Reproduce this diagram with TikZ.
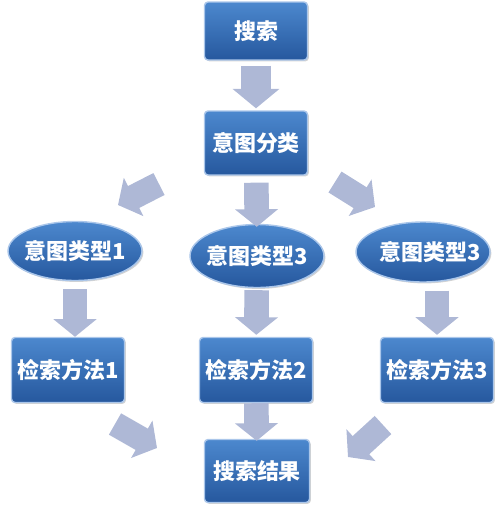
\documentclass[tikz,border=0pt]{standalone}
\usepackage{fontspec}
\newfontfamily\cjk{Noto Sans CJK SC}
\usetikzlibrary{arrows.meta,shapes.geometric,shadows}
\definecolor{boxtop}{RGB}{76,136,206}
\definecolor{boxbot}{RGB}{38,88,158}
\definecolor{boxline}{RGB}{170,198,234}
\definecolor{arrowfill}{RGB}{174,184,214}

\begin{document}
\begin{tikzpicture}[x=0.02cm,y=-0.02cm]
    \useasboundingbox (0,0) rectangle (500,511);
    \tikzset{
        stepbox/.style={rectangle, rounded corners=2pt, minimum width=2.06cm, minimum height=1.28cm},
        typebox/.style={ellipse, inner xsep=-4pt, inner ysep=0pt, minimum width=2.68cm, minimum height=1.18cm},
        blockarrow/.style={draw=arrowfill, line width=14pt, -{Triangle[length=10pt,width=24pt]}}
    }
    \begin{scope}[every node/.style={draw=boxline, line width=0.8pt, text=white,
            top color=boxtop, bottom color=boxbot,
            drop shadow={shadow xshift=0.8pt, shadow yshift=-0.8pt, opacity=0.35},
            font=\cjk\bfseries\fontsize{12.5}{15}\selectfont}]
        \node[stepbox, minimum height=1.16cm] (srch) at (256,31) {搜索};
        \node[stepbox] (cls) at (256,143) {意图分类};
        \node[typebox] (t1) at (75,251) {意图类型1};
        \node[typebox, minimum height=1.26cm] (t2) at (257,256) {意图类型3};
        \node[typebox, inner xsep=-9pt, minimum height=1.2cm] (t3) at (423,252) {\hspace*{0.3cm}意图类型3};
        \node[stepbox, minimum height=1.3cm] (m1) at (68,370) {检索方法1};
        \node[stepbox, minimum height=1.3cm] (m2) at (256,370) {检索方法2};
        \node[stepbox, minimum height=1.3cm] (m3) at (437,370) {检索方法3};
        \node[stepbox, minimum width=2.1cm, minimum height=1.26cm] (res) at (257,471) {搜索结果};
    \end{scope}
    % loose ends of the slanted arrows
    \coordinate (d1s) at (159,184); \coordinate (d1e) at (118,205);
    \coordinate (d2s) at (335,182); \coordinate (d2e) at (375,207);
    \coordinate (d3s) at (115,424); \coordinate (d3e) at (157,448);
    \coordinate (d4s) at (383,425); \coordinate (d4e) at (348,457);
    \begin{scope}[every edge/.style={blockarrow}]
        \path (srch) edge[line width=17pt, -{Triangle[length=11pt,width=26pt]},
            shorten <=0.1cm, shorten >=0.04cm] (cls);
        \path (cls) edge[shorten <=0.14cm, shorten >=-0.06cm] (t2);
        \path (d1s) edge (d1e);
        \path (d2s) edge (d2e);
        \path (t1.south) edge[shorten <=0.16cm] (t1.south |- m1.north);
        \path (t2) edge[shorten <=0.04cm, shorten >=0.04cm] (m2);
        \path (m3.north |- t3.south) edge[shorten <=0.16cm, shorten >=0.04cm] (m3.north);
        \path (m2) edge[shorten >=-0.04cm] (res);
        \path (d3s) edge (d3e);
        \path (d4s) edge (d4e);
    \end{scope}
\end{tikzpicture}
\end{document}
